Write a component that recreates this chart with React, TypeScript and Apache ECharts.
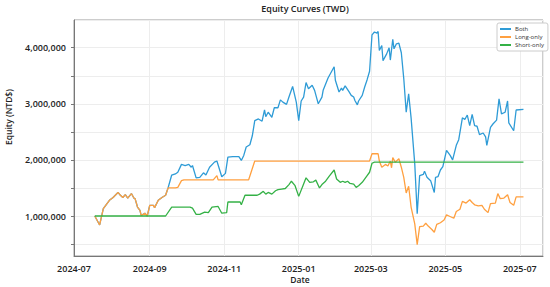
import React, { useEffect, useRef } from "react";
import * as echarts from "echarts";

// ---- Data ----
const seriesNames = ["Both", "Long-only", "Short-only"];

const bothDates = [
  "2024-07-18","2024-07-22","2024-07-25","2024-07-30","2024-08-02","2024-08-06","2024-08-08","2024-08-10",
  "2024-08-12","2024-08-14","2024-08-17","2024-08-19","2024-08-20","2024-08-22","2024-08-24","2024-08-25",
  "2024-08-28","2024-08-30","2024-09-01","2024-09-04","2024-09-05","2024-09-08","2024-09-11","2024-09-14",
  "2024-09-16","2024-09-19","2024-09-22","2024-09-24","2024-09-27","2024-09-30","2024-10-03","2024-10-05",
  "2024-10-06","2024-10-09","2024-10-12","2024-10-15","2024-10-17","2024-10-20","2024-10-24","2024-10-26",
  "2024-10-30","2024-11-02","2024-11-04","2024-11-08","2024-11-13","2024-11-15","2024-11-17","2024-11-19",
  "2024-11-22","2024-11-24","2024-11-26","2024-11-29","2024-12-02","2024-12-04","2024-12-05","2024-12-07",
  "2024-12-10","2024-12-12","2024-12-15","2024-12-17","2024-12-19","2024-12-22","2024-12-24","2024-12-27",
  "2024-12-30","2025-01-01","2025-01-03","2025-01-05","2025-01-07","2025-01-09","2025-01-12","2025-01-14",
  "2025-01-17","2025-01-20","2025-01-21","2025-01-25","2025-01-30","2025-01-31","2025-02-03","2025-02-05",
  "2025-02-06","2025-02-08","2025-02-11","2025-02-13","2025-02-15","2025-02-16","2025-02-18","2025-02-19",
  "2025-02-22","2025-02-24","2025-02-26","2025-02-28","2025-03-02","2025-03-04","2025-03-06","2025-03-07",
  "2025-03-08","2025-03-10","2025-03-11","2025-03-14","2025-03-16","2025-03-17","2025-03-19","2025-03-20",
  "2025-03-22","2025-03-24","2025-03-26","2025-03-28","2025-03-30","2025-04-01","2025-04-03","2025-04-06",
  "2025-04-08","2025-04-10","2025-04-13","2025-04-14","2025-04-16","2025-04-19","2025-04-22","2025-04-23",
  "2025-04-25","2025-04-27","2025-04-29","2025-05-02","2025-05-05","2025-05-07","2025-05-10","2025-05-12",
  "2025-05-15","2025-05-17","2025-05-19","2025-05-21","2025-05-23","2025-05-25","2025-05-27","2025-05-29",
  "2025-06-01","2025-06-03","2025-06-04","2025-06-07","2025-06-09","2025-06-12","2025-06-14","2025-06-16",
  "2025-06-19","2025-06-21","2025-06-22","2025-06-26","2025-06-28","2025-07-04"
];
const bothValues = [
  1000000,840000,1130000,1280000,1330000,1420000,1370000,1330000,
  1380000,1320000,1400000,1320000,1310000,1160000,1100000,1010000,
  1050000,1000000,1190000,1190000,1150000,1280000,1330000,1370000,
  1500000,1730000,1750000,1780000,1920000,1900000,1920000,1870000,
  1900000,1680000,1690000,1770000,1730000,1870000,1960000,1980000,
  1700000,1760000,2050000,2060000,2060000,1990000,2080000,2230000,
  2270000,2430000,2700000,2730000,2690000,2890000,2770000,2850000,
  2760000,2930000,2930000,3070000,3030000,2990000,3120000,3310000,
  3030000,2700000,3050000,3120000,3380000,3270000,3330000,3240000,
  3000000,3120000,3240000,3460000,3660000,3420000,3210000,3280000,
  3240000,3320000,3220000,3150000,3120000,3060000,2980000,3050000,
  3150000,3300000,3430000,3580000,4230000,4280000,4260000,4290000,
  3950000,4040000,3770000,3890000,4000000,3780000,4150000,3980000,
  4070000,4080000,3910000,3450000,2850000,3180000,2750000,1930000,
  1040000,1720000,1740000,1800000,1690000,1630000,1420000,1690000,
  1700000,1820000,1880000,2170000,2080000,2000000,2260000,2360000,
  2750000,2720000,2800000,2610000,2810000,2610000,2600000,2450000,
  2480000,2410000,2260000,2580000,2640000,2710000,3090000,2820000,
  2850000,3050000,2660000,2520000,2890000,2900000
];

const longDates = [
  "2024-07-18","2024-07-22","2024-07-25","2024-07-30","2024-08-02","2024-08-06","2024-08-08","2024-08-10",
  "2024-08-12","2024-08-14","2024-08-17","2024-08-19","2024-08-20","2024-08-22","2024-08-24","2024-08-25",
  "2024-08-28","2024-08-30","2024-09-01","2024-09-04","2024-09-05","2024-09-08","2024-09-11","2024-09-14",
  "2024-09-16","2024-09-22","2024-09-24","2024-09-27","2024-09-29","2024-10-23","2024-10-26","2024-10-27",
  "2024-11-21","2024-11-26","2025-02-28","2025-03-02","2025-03-07","2025-03-08","2025-03-10","2025-03-13",
  "2025-03-15","2025-03-17","2025-03-18","2025-03-19","2025-03-21","2025-03-24","2025-03-26","2025-03-28",
  "2025-03-30","2025-04-01","2025-04-03","2025-04-06","2025-04-08","2025-04-10","2025-04-13","2025-04-15",
  "2025-04-17","2025-04-20","2025-04-22","2025-04-24","2025-04-27","2025-04-30","2025-05-02","2025-05-04",
  "2025-05-08","2025-05-10","2025-05-13","2025-05-15","2025-05-18","2025-05-21","2025-05-23","2025-05-25",
  "2025-05-28","2025-05-31","2025-06-02","2025-06-05","2025-06-07","2025-06-11","2025-06-13","2025-06-15",
  "2025-06-18","2025-06-21","2025-06-23","2025-06-26","2025-06-28","2025-07-04"
];
const longValues = [
  1000000,840000,1130000,1280000,1330000,1420000,1370000,1330000,
  1380000,1320000,1400000,1320000,1310000,1160000,1100000,1010000,
  1050000,1000000,1190000,1190000,1150000,1280000,1330000,1370000,
  1500000,1500000,1510000,1630000,1645000,1645000,1720000,1645000,
  1645000,1980000,1980000,2110000,2110000,1980000,1870000,1920000,
  1890000,1980000,1860000,2040000,1960000,2020000,1870000,1690000,
  1410000,1530000,1160000,860000,490000,810000,820000,870000,
  820000,760000,710000,850000,880000,930000,1020000,1000000,
  960000,1080000,1120000,1260000,1230000,1290000,1240000,1200000,
  1180000,1190000,1120000,1060000,1220000,1230000,1400000,1310000,
  1320000,1380000,1240000,1190000,1340000,1340000
];

const shortDates = [
  "2024-07-18","2024-09-14","2024-09-19","2024-10-04","2024-10-06","2024-10-09","2024-10-12","2024-10-16",
  "2024-10-19","2024-10-22","2024-10-27","2024-10-30","2024-11-03","2024-11-04","2024-11-14","2024-11-15",
  "2024-11-18","2024-11-28","2024-11-30","2024-12-03","2024-12-05","2024-12-07","2024-12-10","2024-12-13",
  "2024-12-15","2024-12-18","2024-12-21","2024-12-24","2024-12-26","2024-12-29","2025-01-01","2025-01-05",
  "2025-01-07","2025-01-10","2025-01-13","2025-01-15","2025-01-18","2025-01-20","2025-01-23","2025-01-26",
  "2025-01-30","2025-02-01","2025-02-04","2025-02-06","2025-02-08","2025-02-10","2025-02-12","2025-02-15",
  "2025-02-17","2025-02-19","2025-02-22","2025-02-26","2025-02-28","2025-03-02","2025-03-04","2025-07-04"
];
const shortValues = [
  1000000,1000000,1157000,1157000,1140000,1030000,1030000,1070000,
  1060000,1160000,1170000,1050000,1060000,1250000,1250000,1200000,
  1370000,1370000,1390000,1440000,1390000,1420000,1390000,1450000,
  1470000,1480000,1490000,1560000,1620000,1540000,1350000,1570000,
  1680000,1600000,1610000,1640000,1500000,1560000,1620000,1710000,
  1820000,1660000,1600000,1620000,1600000,1620000,1580000,1570000,
  1510000,1540000,1600000,1720000,1780000,1940000,1960000,1960000
];

const xMinDate = "2024-07-01";
const xMaxDate = "2025-07-20";
const yMin = 287000;
const yMax = 4494000;

const colors = ["#2e9bd6", "#ffa040", "#34b146"];
const FONT = '"Open Sans", "Noto Sans", sans-serif';

function zip(dates: string[], values: number[]) {
  return dates.map((d, i) => [d, values[i]]);
}

function parseLocal(d: string) {
  const [y, m, dd] = d.split("-").map(Number);
  return new Date(y, m - 1, dd).getTime();
}

export default function App() {
  const ref = useRef<HTMLDivElement>(null);

  useEffect(() => {
    if (!ref.current) return;
    const chart = echarts.init(ref.current, null, { renderer: "svg" });
    const option = {
      animation: false,
      backgroundColor: "#ffffff",
      textStyle: { fontFamily: FONT },
      grid: {
        left: 74,
        right: 7,
        top: 20,
        bottom: 31,
        show: true,
        borderColor: "#9a9a9a",
        borderWidth: 1,
        backgroundColor: "transparent",
      },
      legend: {
        orient: "vertical",
        left: 497,
        top: 23,
        icon: "rect",
        itemWidth: 11,
        itemHeight: 2,
        itemGap: 2,
        padding: [3, 4, 3, 3],
        borderColor: "#cccccc",
        borderWidth: 1,
        borderRadius: 2,
        backgroundColor: "#ffffff",
        textStyle: { fontSize: 6, color: "#333", fontFamily: FONT, padding: [0, 0, 0, -1] },
        data: seriesNames,
      },
      xAxis: {
        type: "time",
        min: parseLocal(xMinDate),
        max: parseLocal(xMaxDate),
        splitNumber: 5,
        axisLine: { show: true, lineStyle: { color: "#777", width: 1 } },
        axisTick: { show: false },
        splitLine: { show: true, lineStyle: { color: "#ededed", width: 1 } },
        axisLabel: {
          color: "#222",
          fontSize: 9,
          fontWeight: 600,
          fontFamily: FONT,
          margin: 8,
          showMaxLabel: false,
          formatter: (v: number) => {
            const d = new Date(v);
            return d.getFullYear() + "-" + String(d.getMonth() + 1).padStart(2, "0");
          },
        },
      },
      yAxis: {
        type: "value",
        min: yMin,
        max: yMax,
        splitNumber: 8,
        axisLine: { show: true, lineStyle: { color: "#777", width: 1 } },
        axisTick: { show: true, length: 3, lineStyle: { color: "#777" } },
        splitLine: { show: true, lineStyle: { color: "#ededed", width: 1 } },
        axisLabel: {
          color: "#222",
          fontSize: 9,
          fontWeight: 600,
          fontFamily: FONT,
          margin: 8,
          showMinLabel: false,
          showMaxLabel: false,
          formatter: (v: number) =>
            Math.abs(v % 1000000) < 1 ? Math.round(v).toLocaleString("en-US") : "",
        },
      },
      graphic: [
        {
          type: "text",
          x: 305,
          y: 8,
          style: {
            text: "Equity Curves (TWD)",
            font: `600 9px ${FONT}`,
            fill: "#222",
            align: "center",
            verticalAlign: "middle",
          },
        },
        {
          type: "text",
          x: 300,
          y: 279,
          style: {
            text: "Date",
            font: `600 8.5px ${FONT}`,
            fill: "#222",
            align: "center",
            verticalAlign: "middle",
          },
        },
        {
          type: "text",
          x: 8,
          y: 117,
          rotation: Math.PI / 2,
          style: {
            text: "Equity (NTD$)",
            font: `600 8.5px ${FONT}`,
            fill: "#222",
            align: "center",
            verticalAlign: "middle",
          },
        },
      ],
      series: [
        {
          name: seriesNames[0],
          type: "line",
          data: zip(bothDates, bothValues),
          showSymbol: false,
          symbol: "none",
          color: colors[0],
          lineStyle: { width: 1.3, color: colors[0] },
        },
        {
          name: seriesNames[1],
          type: "line",
          data: zip(longDates, longValues),
          showSymbol: false,
          symbol: "none",
          color: colors[1],
          lineStyle: { width: 1.3, color: colors[1] },
        },
        {
          name: seriesNames[2],
          type: "line",
          data: zip(shortDates, shortValues),
          showSymbol: false,
          symbol: "none",
          color: colors[2],
          lineStyle: { width: 1.3, color: colors[2] },
        },
      ],
    };
    chart.setOption(option as any);
    return () => chart.dispose();
  }, []);

  return (
    <div
      ref={ref}
      style={{ position: "fixed", left: 0, top: 0, width: 550, height: 287 }}
    />
  );
}
